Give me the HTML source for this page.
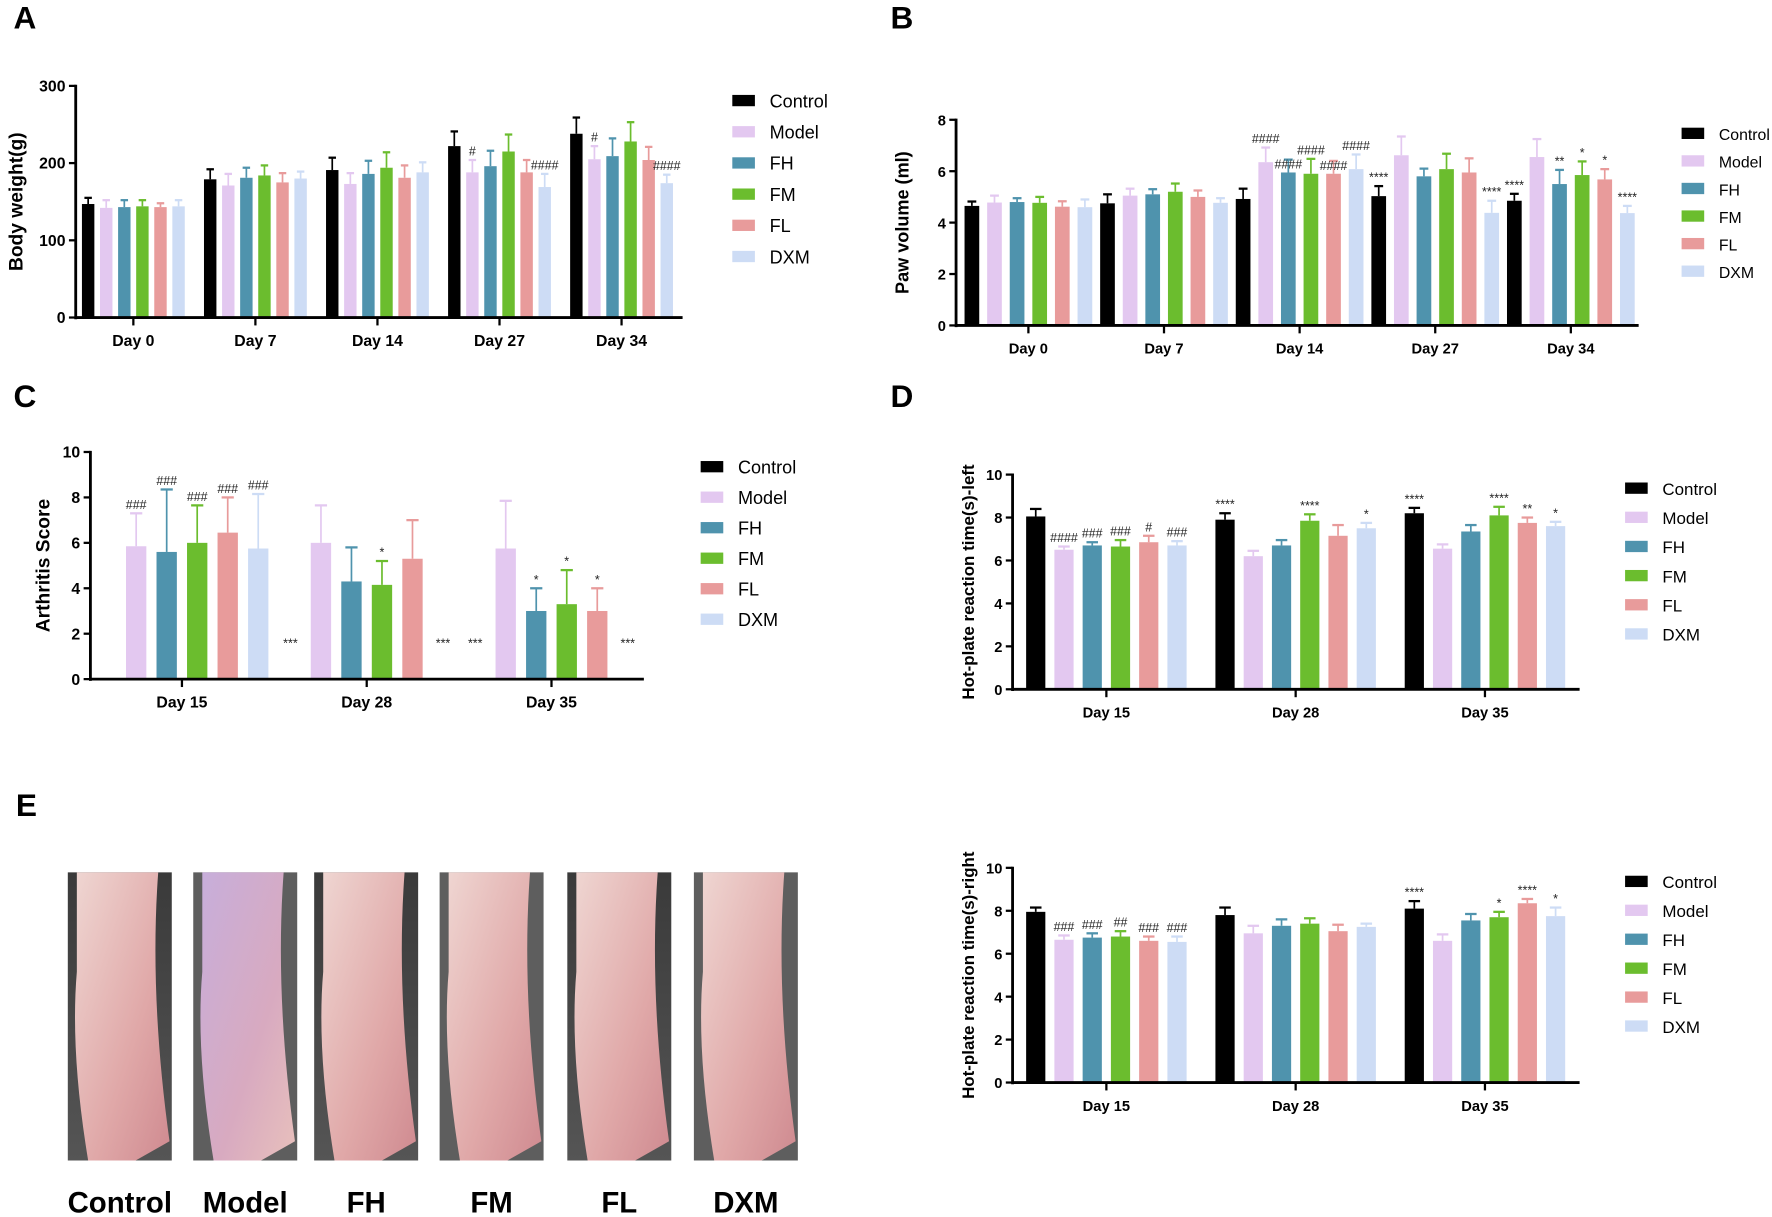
<!DOCTYPE html>
<html><head><meta charset="utf-8"><style>
html,body{margin:0;padding:0;background:#fff;}
svg{display:block;font-family:"Liberation Sans",Arial,sans-serif;}
</style></head><body>
<svg id="fig" width="1772" height="1217" viewBox="0 0 1568 1077" preserveAspectRatio="none">
<defs>
<linearGradient id="paw1" x1="0" y1="0" x2="1" y2="1"><stop offset="0" stop-color="#efd6d2"/><stop offset="0.6" stop-color="#e0a8a8"/><stop offset="1" stop-color="#cf8a90"/></linearGradient>
<linearGradient id="paw2" x1="0" y1="0" x2="1" y2="1"><stop offset="0" stop-color="#c7aedb"/><stop offset="0.6" stop-color="#d8aac0"/><stop offset="1" stop-color="#e8c0bc"/></linearGradient>
<linearGradient id="bgdark" x1="0" y1="0" x2="0" y2="1"><stop offset="0" stop-color="#3a3a3a"/><stop offset="1" stop-color="#555"/></linearGradient>
</defs>
<g id="panels"></g>
<g id="photos"></g>
</svg>
<script>
const NS='http://www.w3.org/2000/svg';
const seriesNames=['Control','Model','FH','FM','FL','DXM'];
const seriesColors=['#000000','#e3c8f0','#4f93ad','#6bbd2e','#e89b9b','#cddcf5'];

const catsA=['Day 0','Day 7','Day 14','Day 27','Day 34'];
const valsA=[[147,142,143,144,143,144],[179,171,181,184,175,180],[191,173,186,194,181,188],[222,188,196,215,188,169],[238,205,209,228,204,174]];
const errA=[[155,152,152,152,148,152],[192,186,194,197,187,189],[207,187,203,214,197,201],[241,204,216,237,204,186],[259,222,232,253,221,185]];
const annA=[['','','','','',''],['','','','','',''],['','','','','',''],['','#','','','','####'],['','#','','','','####']];
const ticksA=[0,100,200,300];

const catsB=['Day 0','Day 7','Day 14','Day 27','Day 34'];
const valsB=[[4.65,4.78,4.8,4.77,4.62,4.6],[4.75,5.05,5.1,5.2,5.0,4.77],[4.92,6.35,5.95,5.9,5.9,6.08],[5.03,6.62,5.8,6.08,5.95,4.38],[4.85,6.55,5.5,5.85,5.68,4.37]];
const errB=[[4.82,5.05,4.95,5.0,4.83,4.9],[5.1,5.32,5.3,5.52,5.25,4.95],[5.32,6.92,6.45,6.48,6.4,6.65],[5.42,7.35,6.1,6.68,6.5,4.85],[5.12,7.25,6.05,6.38,6.08,4.65]];
const annB=[['','','','','',''],['','','','','',''],['','####','####','####','####','####'],['****','','','','','****'],['****','','**','*','*','****']];
const ticksB=[0,2,4,6,8];

const catsC=['Day 15','Day 28','Day 35'];
const valsC=[[0,5.85,5.6,6.0,6.45,5.75],[0,6.0,4.3,4.15,5.3,0],[0,5.75,3.0,3.3,3.0,0]];
const errC=[[0,7.3,8.35,7.65,8.0,8.15],[0,7.65,5.8,5.2,7.0,0],[0,7.85,4.0,4.8,4.0,0]];
const annC=[['','###','###','###','###','###'],['***','','','*','','***'],['***','','*','*','*','***']];
const ticksC=[0,2,4,6,8,10];

const catsD=['Day 15','Day 28','Day 35'];
const valsD=[[8.05,6.5,6.7,6.65,6.85,6.7],[7.9,6.2,6.7,7.85,7.15,7.5],[8.2,6.55,7.35,8.1,7.75,7.6]];
const errD=[[8.4,6.65,6.85,6.95,7.15,6.9],[8.2,6.45,6.95,8.15,7.65,7.75],[8.45,6.75,7.65,8.5,8.0,7.8]];
const annD=[['','####','###','###','#','###'],['****','','','****','','*'],['****','','','****','**','*']];
const ticksD=[0,2,4,6,8,10];

const catsE=['Day 15','Day 28','Day 35'];
const valsE=[[7.95,6.65,6.75,6.8,6.6,6.55],[7.8,6.95,7.3,7.4,7.05,7.25],[8.1,6.6,7.55,7.7,8.35,7.75]];
const errE=[[8.15,6.85,6.95,7.05,6.8,6.8],[8.15,7.3,7.6,7.65,7.35,7.4],[8.45,6.9,7.85,7.95,8.55,8.15]];
const annE=[['','###','###','##','###','###'],['','','','','',''],['****','','','*','****','*']];
const ticksE=[0,2,4,6,8,10];

const photoLabels=['Control','Model','FH','FM','FL','DXM'];

function el(tag,attrs,parent,text){const e=document.createElementNS(NS,tag);for(const k in attrs)e.setAttribute(k,attrs[k]);if(text!==undefined)e.textContent=text;parent.appendChild(e);return e;}

function chart(cfg){
  const root=document.getElementById('panels');
  const g=el('g',{},root);
  
  
  const yMax=cfg.ticks[cfg.ticks.length-1];
  const ys=v=>cfg.y0-(v/yMax)*(cfg.y0-cfg.yTop);
  const xs=(ci,si)=>cfg.g0+ci*cfg.gStep+(si-2.5)*cfg.bStep;
  const pl=el('text',{x:cfg.lx,y:cfg.ly,'font-size':28,'font-weight':'bold'},g,cfg.letter);
  
  
  cfg.vals.forEach((row,ci)=>row.forEach((v,si)=>{
    const x=xs(ci,si);const col=seriesColors[si];
    if(v>0){
      const r=el('rect',{x:x-cfg.bw/2,y:ys(v),width:cfg.bw,height:cfg.y0-ys(v),fill:col},g);
      
      
      const t=cfg.err[ci][si];
      if(t>v){
        const ln=el('line',{x1:x,x2:x,y1:ys(v),y2:ys(t),stroke:col,'stroke-width':1.5},g);
        
        
        const cp=el('line',{x1:x-cfg.bw*0.3,x2:x+cfg.bw*0.3,y1:ys(t),y2:ys(t),stroke:col,'stroke-width':2},g);
        
        
      }
    }
    const a=cfg.ann[ci][si];
    if(a){
      const base=v>0?Math.max(cfg.err[ci][si],v):yMax*0.12;
      const stagger=(cfg.stagger && a.length>=4 && ci===cfg.staggerGroup && si%2===0)?12:0;
      const tx=el('text',{x:x,y:ys(base)-4+stagger,'font-size':11,'text-anchor':'middle',fill:'#222'},g,a);
      
      
    }
  }));
  const xEnd=cfg.g0+(cfg.cats.length-1)*cfg.gStep+cfg.gStep/2;
  const ya=el('line',{x1:cfg.ax,x2:cfg.ax,y1:cfg.yTop-1,y2:cfg.y0+1.5,stroke:'#000','stroke-width':2.5},g);
  
  const xa=el('line',{x1:cfg.ax,x2:xEnd,y1:cfg.y0,y2:cfg.y0,stroke:'#000','stroke-width':2.5},g);
  
  cfg.ticks.forEach(t=>{
    el('line',{x1:cfg.ax-6,x2:cfg.ax,y1:ys(t),y2:ys(t),stroke:'#000','stroke-width':2},g);
    const tl=el('text',{x:cfg.ax-9,y:ys(t)+5,'font-size':cfg.tfs,'font-weight':'bold','text-anchor':'end'},g,String(t));
    
  });
  cfg.cats.forEach((c,ci)=>{
    const cx=cfg.g0+ci*cfg.gStep;
    el('line',{x1:cx,x2:cx,y1:cfg.y0,y2:cfg.y0+7,stroke:'#000','stroke-width':2},g);
    const cl=el('text',{x:cx,y:cfg.y0+25,'font-size':cfg.tfs,'font-weight':'bold','text-anchor':'middle'},g,c);
    
  });
  const ymid=(cfg.y0+cfg.yTop)/2;
  const yt=el('text',{x:cfg.ytx,y:ymid,'font-size':cfg.yfs,'font-weight':'bold','text-anchor':'middle',transform:`rotate(-90 ${cfg.ytx} ${ymid})`},g,cfg.ytitle);
  
  seriesNames.forEach((n,i)=>{
    const y=cfg.legY+i*cfg.legStep;
    const sw=el('rect',{x:cfg.legX,y:y-5,width:20,height:10,fill:seriesColors[i]},g);
    
    const lt=el('text',{x:cfg.legX+33,y:y+6,'font-size':cfg.lfs},g,n);
    
  });
}

chart({name:'chart-body-weight',letter:'A',lx:12,ly:25,cats:catsA,vals:valsA,err:errA,ann:annA,ticks:ticksA,ax:67,y0:281,yTop:76,g0:118,gStep:108,bStep:16,bw:11,tfs:14,yfs:17,ytx:20,ytitle:'Body weight(g)',legX:648,legY:89,legStep:27.6,lfs:16});
chart({name:'chart-paw-volume',letter:'B',lx:788,ly:25,cats:catsB,vals:valsB,err:errB,ann:annB,ticks:ticksB,ax:846,y0:288,yTop:106,g0:910,gStep:120,bStep:20,bw:13,tfs:13,yfs:16,ytx:804,ytitle:'Paw volume (ml)',legX:1488,legY:118,legStep:24.4,lfs:14,stagger:true,staggerGroup:2});
chart({name:'chart-arthritis-score',letter:'C',lx:12,ly:360,cats:catsC,vals:valsC,err:errC,ann:annC,ticks:ticksC,ax:80,y0:601,yTop:400,g0:161,gStep:163.5,bStep:27,bw:18,tfs:14,yfs:17,ytx:44,ytitle:'Arthritis Score',legX:620,legY:413,legStep:27,lfs:16});
chart({name:'chart-hotplate-left',letter:'D',lx:788,ly:360,cats:catsD,vals:valsD,err:errD,ann:annD,ticks:ticksD,ax:896,y0:610,yTop:420,g0:979,gStep:167.5,bStep:25,bw:17,tfs:13,yfs:15,ytx:862,ytitle:'Hot-plate reaction time(s)-left',legX:1438,legY:432,legStep:25.8,lfs:15});
chart({name:'chart-hotplate-right',letter:'E',lx:14,ly:722,cats:catsE,vals:valsE,err:errE,ann:annE,ticks:ticksE,ax:896,y0:958,yTop:768,g0:979,gStep:167.5,bStep:25,bw:17,tfs:13,yfs:15,ytx:862,ytitle:'Hot-plate reaction time(s)-right',legX:1438,legY:780,legStep:25.6,lfs:15});

const ph=document.getElementById('photos');
const photoX=[60,171,278,389,502,614];
photoLabels.forEach((n,i)=>{
  const x=photoX[i];
  const g=el('g',{},ph);
  
  
  el('rect',{x:x,y:772,width:92,height:255,fill:i%2?'#5e5e5e':'url(#bgdark)'},g);
  el('path',{d:`M${x+8} 772 L${x+80} 772 Q${x+72} 880 ${x+90} 1010 L${x+60} 1027 L${x+18} 1027 Q${x+2} 930 ${x+8} 860 Z`,fill:i==1?'url(#paw2)':'url(#paw1)'},g);
  const lt=el('text',{x:x+46,y:1073,'font-size':26,'font-weight':'bold','text-anchor':'middle'},g,n);
  
  
});
</script>
</body></html>
